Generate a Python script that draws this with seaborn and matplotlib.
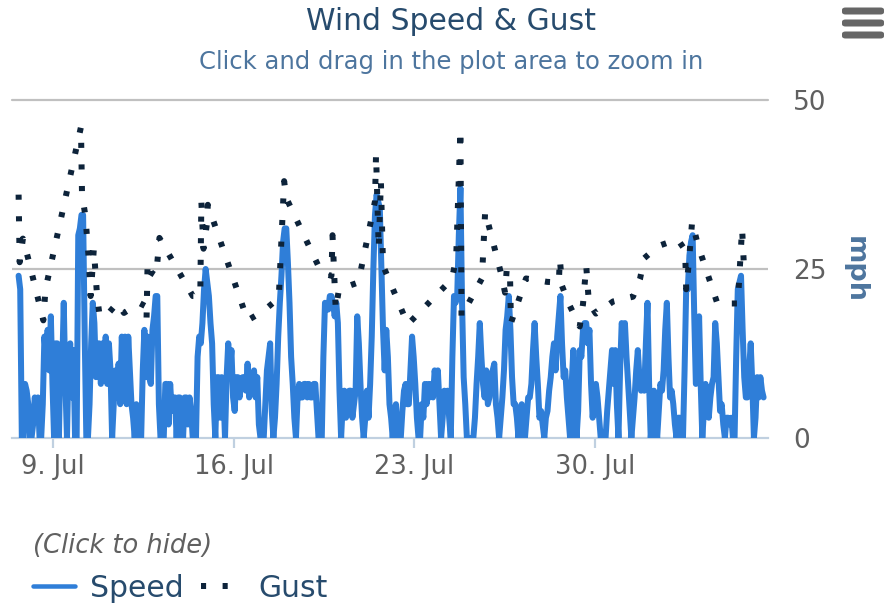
import numpy as np
import pandas as pd
import matplotlib
matplotlib.use("Agg")
import matplotlib.pyplot as plt
import matplotlib.dates as mdates
from matplotlib.patches import FancyBboxPatch
import seaborn as sns

# ---------------- data ----------------
start = pd.Timestamp("2017-07-07 16:00")
step_hours = 1.5

speed_mph = [
    24, 22, 0, 0, 8, 7, 5, 0, 0, 2, 6, 5, 6, 0, 0, 5, 15, 12, 16, 10,
    18, 8, 0, 14, 14, 0, 13, 10, 20, 8, 0, 12, 14, 6, 13, 0, 0, 30, 31, 33,
    33, 15, 0, 0, 5, 14, 20, 17, 9, 14, 14, 8, 14, 9, 15, 8, 14, 10, 0, 5,
    10, 6, 11, 5, 15, 8, 15, 5, 15, 10, 5, 3, 0, 5, 0, 0, 0, 10, 16, 9,
    15, 9, 8, 16, 18, 21, 21, 5, 0, 0, 0, 8, 8, 2, 8, 4, 6, 6, 0, 6,
    6, 3, 0, 6, 6, 2, 6, 4, 0, 0, 0, 12, 15, 14, 17, 22, 25, 23, 21, 17,
    14, 5, 0, 9, 9, 3, 9, 7, 0, 9, 14, 10, 13, 6, 4, 9, 9, 6, 8, 9,
    9, 7, 11, 6, 8, 9, 10, 6, 9, 2, 0, 0, 0, 5, 10, 12, 14, 4, 0, 3,
    8, 15, 20, 24, 29, 31, 31, 26, 20, 12, 8, 3, 0, 6, 8, 6, 6, 8, 8, 6,
    8, 6, 6, 8, 8, 4, 0, 0, 0, 12, 20, 19, 19, 21, 21, 20, 18, 20, 17, 7,
    0, 5, 7, 3, 4, 7, 7, 3, 5, 7, 18, 14, 8, 3, 0, 3, 7, 3, 8, 15,
    25, 33, 36, 35, 34, 25, 16, 10, 16, 12, 5, 3, 0, 4, 5, 0, 0, 0, 4, 7,
    8, 5, 5, 10, 15, 12, 8, 3, 0, 0, 5, 3, 8, 5, 8, 6, 8, 6, 10, 8,
    10, 5, 0, 3, 7, 5, 7, 3, 0, 12, 21, 20, 21, 30, 37, 20, 9, 5, 0, 0,
    0, 0, 0, 3, 8, 12, 17, 12, 8, 6, 10, 5, 6, 9, 10, 11, 5, 3, 0, 3,
    6, 10, 16, 18, 21, 16, 9, 5, 5, 3, 0, 4, 5, 3, 0, 3, 6, 6, 8, 13,
    17, 12, 8, 3, 4, 2, 0, 3, 4, 7, 9, 12, 14, 10, 15, 18, 21, 14, 9, 10,
    6, 3, 0, 8, 13, 6, 0, 4, 13, 12, 16, 17, 17, 14, 16, 8, 3, 6, 8, 6,
    3, 0, 0, 0, 0, 4, 7, 10, 13, 8, 13, 5, 0, 10, 17, 16, 17, 12, 8, 4,
    0, 3, 6, 10, 13, 9, 7, 9, 7, 14, 20, 8, 0, 3, 7, 3, 0, 4, 8, 7,
    10, 16, 20, 12, 6, 7, 5, 2, 0, 3, 3, 2, 0, 10, 22, 22, 27, 29, 30, 18,
    8, 9, 18, 8, 0, 4, 8, 5, 3, 6, 8, 9, 17, 14, 9, 4, 5, 2, 0, 3,
    3, 2, 3, 0, 0, 12, 22, 23, 24, 16, 9, 6, 6, 10, 14, 8, 0, 3, 9, 6,
    9, 7, 6,
]

gust_hours = [
    0, 1, 4, 9, 23, 25, 58, 59, 62, 65, 67, 70, 73, 75, 80, 92, 98, 112, 118, 119,
    120, 123, 128, 131, 162, 169, 170, 172, 175, 176, 213, 227, 242, 247, 249, 282,
    291, 292, 295, 298, 316, 331.5, 332.5, 335, 337, 339, 362, 403, 407, 411, 412,
    431, 434, 449, 452.5, 454, 457, 458, 472, 491.5, 502.5, 503.5, 505.5, 512, 522,
    525, 528, 530.5, 537, 553, 571.5, 578, 582, 595, 613, 620, 621, 623.5, 626.5,
    632, 650, 669, 673, 675,
]
gust_mph = [
    36, 26, 29.5, 26.5, 17.4, 22, 46, 36, 33, 27, 21, 28, 21, 18.5, 17.8, 20, 18.5, 20, 19.5, 17.5,
    26, 24.5, 24, 29.6, 21, 21, 35, 28, 31.5, 34.5, 17.4, 18.7, 20.7, 38, 35.5, 24.4,
    24, 30, 19, 22, 23, 35, 42, 28, 38, 25.5, 16.8, 23.5, 26.5, 45.6, 18,
    23.6, 33.5, 24.2, 21.5, 24.8, 25, 17, 23.6, 23.1, 23, 26.5, 22.5, 19.8, 16.5,
    19.8, 25.5, 20, 18.4, 20.2, 20.9, 23.5, 26.6, 28.4, 29.4, 27.8, 22, 26, 32,
    28.5, 19.9, 19.9, 31, 24.5,
]

tick_dates = ["2017-07-09", "2017-07-16", "2017-07-23", "2017-07-30"]
tick_labels = ["9. Jul", "16. Jul", "23. Jul", "30. Jul"]
y_ticks = [0, 25, 50]

speed_time = start + pd.to_timedelta(np.arange(len(speed_mph)) * step_hours, unit="h")
gust_time = start + pd.to_timedelta(gust_hours, unit="h")
speed_df = pd.DataFrame({"time": speed_time, "mph": speed_mph})
gust_df = pd.DataFrame({"time": gust_time, "mph": gust_mph})

# ---------------- figure ----------------
W, H = 887, 610
DPI = 100
sns.set_theme(style="white")
plt.rcParams["font.family"] = ["DejaVu Sans"]
fig = plt.figure(figsize=(W / DPI, H / DPI), dpi=DPI)
fig.patch.set_facecolor("white")

def px2pt(p):
    return p * 72.0 / DPI

L, R, T, B = 12, 768, 100, 438
ax = fig.add_axes([L / W, 1 - B / H, (R - L) / W, (B - T) / H])
ax.set_facecolor("white")

ax.axhline(25, color="#C0C0C0", lw=px2pt(2.2), zorder=1)
ax.axhline(50, color="#C0C0C0", lw=px2pt(2.2), zorder=1, clip_on=False)

SPEED_C = "#2f7ed8"
GUST_C = "#0d233a"
sns.lineplot(data=speed_df, x="time", y="mph", ax=ax, color=SPEED_C,
             lw=px2pt(6), estimator=None, sort=False, label="Speed",
             zorder=3, solid_joinstyle="round", solid_capstyle="round")
sns.lineplot(data=gust_df, x="time", y="mph", ax=ax, color=GUST_C,
             lw=px2pt(6), estimator=None, sort=False, label="Gust",
             linestyle=(0, (0.85, 2.75)), dash_capstyle="butt", zorder=4)

x0 = mdates.date2num(start - pd.Timedelta(hours=6.14))
x1 = mdates.date2num(start + pd.Timedelta(hours=697.1))
ax.set_xlim(x0, x1)
ax.set_ylim(0, 50)

for s in ["top", "left", "right"]:
    ax.spines[s].set_visible(False)
ax.spines["bottom"].set_color("#C0D0E0")
ax.spines["bottom"].set_linewidth(px2pt(2.2))
ax.spines["bottom"].set_zorder(2)

ax.set_xticks(mdates.date2num(pd.to_datetime(tick_dates)))
ax.set_xticklabels(tick_labels)
ax.tick_params(axis="x", length=px2pt(10), width=px2pt(2.2), color="#C0D0E0",
               labelsize=18.5, labelcolor="#606060", pad=px2pt(6), bottom=True)

ax.yaxis.tick_right()
ax.set_yticks(y_ticks)
ax.set_yticklabels([str(v) for v in y_ticks])
ax.tick_params(axis="y", length=0, labelsize=19, labelcolor="#606060", pad=px2pt(25))
for lab in ax.get_yticklabels():
    lab.set_horizontalalignment("left")

ax.set_xlabel("")
ax.set_ylabel("")
ax.grid(False)

# axis title on the right
fig.text(855 / W, 1 - 269 / H, "mph", rotation=270, ha="center", va="center",
         fontsize=19.5, fontweight="bold", color="#4d759e")

# titles
fig.text(451 / W, 1 - 22 / H, "Wind Speed & Gust", ha="center", va="center",
         fontsize=21.5, color="#274b6d")
fig.text(451 / W, 1 - 62 / H, "Click and drag in the plot area to zoom in",
         ha="center", va="center", fontsize=17.5, color="#4d759e")

# legend
handles, labels = ax.get_legend_handles_labels()
ax.get_legend().remove()
leg = fig.legend(handles, labels, loc="upper left",
                 bbox_to_anchor=(33 / W, 1 - 533 / H), ncol=2, frameon=False,
                 fontsize=21.5, handlelength=1.4, handletextpad=0.5,
                 columnspacing=0.6, borderaxespad=0, borderpad=0,
                 title="(Click to hide)", alignment="left",
                 title_fontproperties={"style": "italic", "size": 18.5})
leg.get_title().set_color("#606060")
for t in leg.get_texts():
    t.set_color("#274b6d")
leg.legend_handles[0].set_linewidth(px2pt(4.5))

# export/menu icon (three rounded bars)
for yc in [11, 23, 35]:
    bar = FancyBboxPatch((842 / W, (H - yc - 3.5) / H), 42 / W, 7 / H,
                         boxstyle="round,pad=0,rounding_size=0.004",
                         transform=fig.transFigure, facecolor="#666666",
                         edgecolor="none")
    fig.patches.append(bar)

fig.savefig("out.png", dpi=DPI, facecolor="white")
